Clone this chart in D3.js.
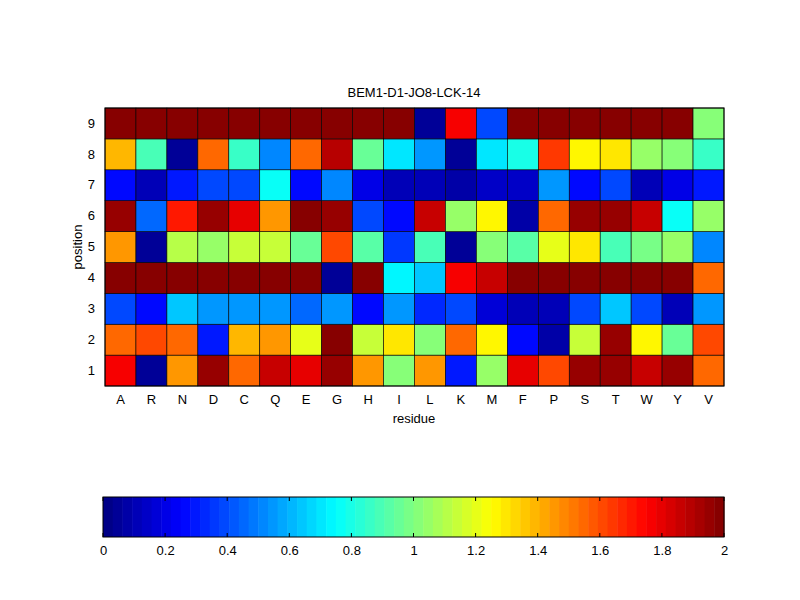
<!DOCTYPE html><html><head><meta charset="utf-8"><script src="https://d3js.org/d3.v7.min.js"></script>
<style>body{margin:0;background:#fff}text{font-family:"Liberation Sans",Arial,sans-serif;font-size:13px}</style></head><body><svg id="c" width="800" height="600"></svg>
<script>
const residues=["A","R","N","D","C","Q","E","G","H","I","L","K","M","F","P","S","T","W","Y","V"];
const positions=[1,2,3,4,5,6,7,8,9];
const row1=[1.75,0.05,1.45,1.95,1.55,1.85,1.8,1.95,1.45,1.0,1.45,0.3,1.05,1.8,1.6,1.95,1.95,1.85,1.95,1.55];
const row2=[1.55,1.6,1.55,0.3,1.4,1.45,1.2,2,1.15,1.3,1.0,1.55,1.25,0.25,0.08,1.15,1.95,1.25,0.95,1.62];
const row3=[0.4,0.25,0.65,0.55,0.55,0.55,0.45,0.55,0.28,0.55,0.32,0.38,0.18,0.1,0.1,0.4,0.65,0.4,0.12,0.55];
const row4=[2,2,2,2,2,2,2,0.05,2,0.72,0.65,1.75,1.85,2,2,2,2,2,2,1.55];
const row5=[1.45,0.05,1.1,1.05,1.15,1.15,0.95,1.6,0.92,0.35,0.88,0.05,1.0,0.92,1.2,1.3,0.88,0.97,1.05,0.5];
const row6=[1.95,0.45,1.7,1.95,1.8,1.45,2,1.95,0.4,0.27,1.85,1.05,1.25,0.07,1.55,1.95,1.95,1.85,0.75,1.05];
const row7=[0.25,0.12,0.3,0.38,0.4,0.75,0.27,0.5,0.2,0.1,0.1,0.07,0.15,0.13,0.55,0.28,0.38,0.1,0.2,0.3];
const row8=[1.4,0.9,0.05,1.55,0.85,0.5,1.55,1.9,0.95,0.7,0.55,0.05,0.7,0.8,1.65,1.25,1.3,1.05,1.0,0.85];
const row9=[2,2,2,2,2,2,2,2,2,2,0.05,1.75,0.4,2,2,2,2,2,2,1.0];
const rows=[row1,row2,row3,row4,row5,row6,row7,row8,row9];
const cbTicks=[0,0.2,0.4,0.6,0.8,1,1.2,1.4,1.6,1.8,2];

const cl=v=>Math.max(0,Math.min(1,v));
function jet(t){const i=Math.min(63,Math.floor(t*64));const u=(i+0.5)/64;
 return d3.rgb(255*cl(1.5-Math.abs(4*u-3)),255*cl(1.5-Math.abs(4*u-2)),255*cl(1.5-Math.abs(4*u-1))).toString();}
const svg=d3.select("#c");
const x=d3.scaleBand().domain(residues).range([105,724]);
const y=d3.scaleBand().domain(positions).range([386,108]);
const cells=[];rows.forEach((r,i)=>r.forEach((v,j)=>cells.push({p:positions[i],r:residues[j],v})));
svg.selectAll("rect.c").data(cells).join("rect").attr("x",d=>x(d.r)).attr("y",d=>y(d.p))
 .attr("width",x.bandwidth()).attr("height",y.bandwidth()).attr("fill",d=>jet(d.v/2)).attr("stroke","#000").attr("stroke-width",0.6);
svg.append("rect").attr("x",105).attr("y",108).attr("width",619).attr("height",278).attr("fill","none").attr("stroke","#000");
const xa=svg.append("g").attr("transform","translate(0,386)").call(d3.axisBottom(x).tickSize(0).tickPadding(9));
xa.select(".domain").remove();xa.selectAll("text").style("font-size","13px").attr("fill","#000");
const ya=svg.append("g").attr("transform","translate(105,0)").call(d3.axisLeft(y).tickSize(0).tickPadding(10));
ya.select(".domain").remove();ya.selectAll("text").style("font-size","13px").attr("fill","#000");
svg.append("text").attr("x",414).attr("y",97).attr("text-anchor","middle").text("BEM1-D1-JO8-LCK-14");
svg.append("text").attr("x",414).attr("y",423).attr("text-anchor","middle").text("residue");
svg.append("text").attr("transform","translate(82,247) rotate(-90)").attr("text-anchor","middle").text("position");
// colorbar
const cx=d3.scaleLinear().domain([0,2]).range([103,724]);
const steps=d3.range(64);
svg.selectAll("rect.cb").data(steps).join("rect").attr("x",i=>cx(i*2/64)).attr("y",497).attr("width",cx(2/64)-cx(0)+0.5).attr("height",40).attr("fill",i=>jet((i+0.5)/64));
svg.append("rect").attr("x",103).attr("y",497).attr("width",621).attr("height",40).attr("fill","none").attr("stroke","#000");
const ca=svg.append("g").attr("transform","translate(0,537)").call(d3.axisBottom(cx).tickValues(cbTicks).tickFormat(d3.format("~g")).tickSize(0).tickPadding(9));
ca.select(".domain").remove();ca.selectAll("text").style("font-size","13px").attr("fill","#000");
svg.append("g").selectAll("line").data(cbTicks).join("line").attr("x1",d=>cx(d)).attr("x2",d=>cx(d)).attr("y1",537).attr("y2",533).attr("stroke","#000");
svg.append("g").selectAll("line").data(cbTicks).join("line").attr("x1",d=>cx(d)).attr("x2",d=>cx(d)).attr("y1",497).attr("y2",501).attr("stroke","#000");
</script></body></html>
